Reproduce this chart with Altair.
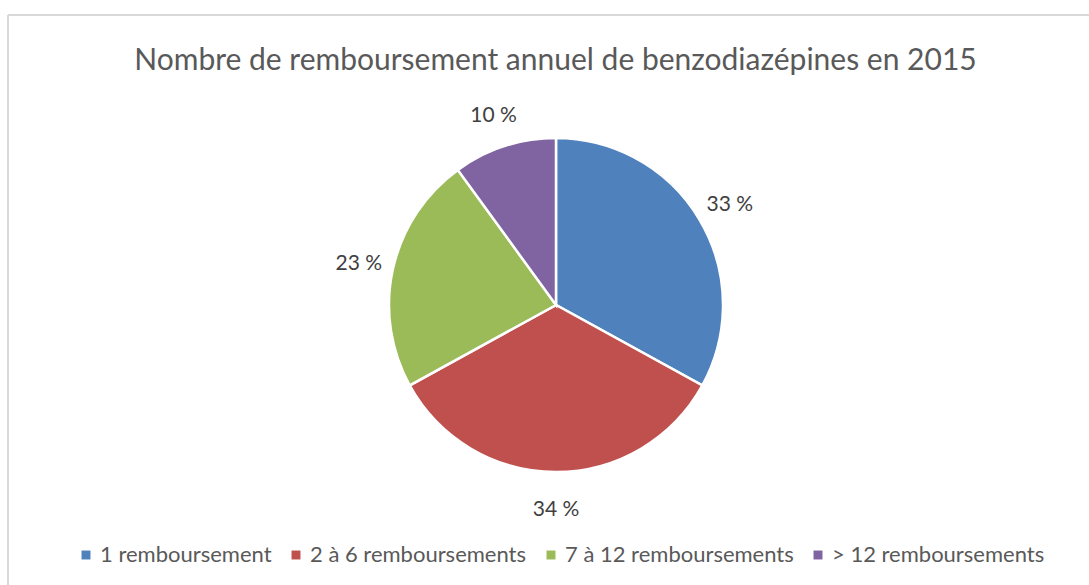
import altair as alt
import pandas as pd

categories = ["1 remboursement", "2 à 6 remboursements", "7 à 12 remboursements", "> 12 remboursements"]
values = [33, 34, 23, 10]
labels = ["33 %", "34 %", "23 %", "10 %"]
colors = ["#4F81BD", "#C0504D", "#9BBB59", "#8064A2"]

df = pd.DataFrame({
    "cat": categories,
    "val": values,
    "lab": labels,
    "idx": list(range(len(categories))),
})

FONT = "Lato"
CX, CY = 548, 290

base = alt.Chart(df).encode(
    theta=alt.Theta("val:Q", stack=True),
    order=alt.Order("idx:Q"),
)

pie = base.mark_arc(radius=167, stroke="white", strokeWidth=2.5).encode(
    x=alt.value(CX),
    y=alt.value(CY),
    color=alt.Color(
        "cat:N",
        scale=alt.Scale(domain=categories, range=colors),
        sort=categories,
        legend=alt.Legend(
            title=None,
            orient="none",
            legendX=67,
            legendY=529,
            direction="horizontal",
            symbolType="square",
            symbolSize=80,
            symbolStrokeWidth=0,
            labelFont=FONT,
            labelFontSize=22,
            labelColor="#595959",
            labelOffset=3,
            columnPadding=13,
            labelLimit=400,
        ),
    ),
)

text = base.mark_text(radius=202, dy=3, font=FONT, fontSize=21, color="#404040").encode(
    x=alt.value(CX),
    y=alt.value(CY),
    text="lab:N",
)

frame_v = alt.Chart(df).mark_rule(color="#d9d9d9", strokeWidth=1.5).encode(
    x=alt.value(0), y=alt.value(0), y2=alt.value(600)
)
frame_h = alt.Chart(df).mark_rule(color="#d9d9d9", strokeWidth=1.5).encode(
    y=alt.value(0), x=alt.value(0), x2=alt.value(1100)
)

chart = alt.layer(frame_v, frame_h, pie, text).properties(
    width=1081,
    height=570,
    padding={"left": 8, "top": 15, "right": 0, "bottom": 0},
    autosize=alt.AutoSizeParams(type="none"),
    title=alt.TitleParams(
        "Nombre de remboursement annuel de benzodiazépines en 2015",
        font=FONT,
        fontSize=30,
        fontWeight="normal",
        color="#595959",
        anchor="middle",
        offset=-62,
        dx=7,
    ),
).configure_view(stroke=None).configure(background="white")

chart.save("out.html", embed_options={"renderer": "svg", "actions": False})
